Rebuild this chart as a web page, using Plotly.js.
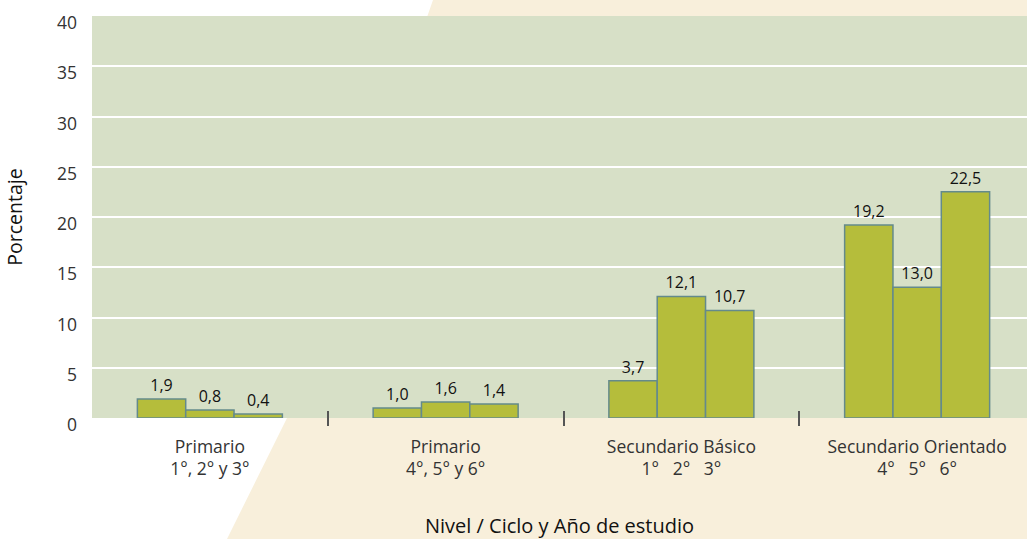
<!DOCTYPE html>
<html><head><meta charset="utf-8">
<script src="https://cdn.plot.ly/plotly-3.0.1.min.js"></script>
<style>
html,body{margin:0;padding:0;background:#fff;}
#wrap{position:relative;width:1027px;height:539px;overflow:hidden;}
#bg{position:absolute;left:0;top:0;width:1027px;height:539px;background:#f8efdb;
clip-path:polygon(433px 0,1027px 0,1027px 539px,227px 539px,287px 418px);}
#chart{position:absolute;left:0;top:0;width:1027px;height:539px;}
</style></head>
<body><div id="wrap"><div id="bg"></div><div id="chart"></div></div>
<script>
const groupPos = [0, 1, 2, 3];
const groupLabels = [
  "Primario<br>1°,\u00a02°\u00a0y\u00a03°",
  "Primario<br>4°,\u00a05°\u00a0y\u00a06°",
  "Secundario Básico<br>1°\u00a0\u00a0\u00a02°\u00a0\u00a0\u00a03°",
  "Secundario Orientado<br>4°\u00a0\u00a0\u00a05°\u00a0\u00a0\u00a06°"
];
const seriesA = [1.9, 1.0, 3.7, 19.2];
const seriesB = [0.8, 1.6, 12.1, 13.0];
const seriesC = [0.4, 1.4, 10.7, 22.5];
const separators = [0.5, 1.5, 2.5];
const yTicks = [0, 5, 10, 15, 20, 25, 30, 35, 40];

const fill = "#b5bd3b", edge = "#648a8c";
function bar(vals, name){
  return {type:"bar", x:groupPos, y:vals, name:name,
    marker:{color:fill, line:{color:edge, width:1.5}},
    texttemplate:"%{y:.1f}", textposition:"outside", cliponaxis:false,
    textfont:{family:"Open Sans", size:16, color:"#111"},
    hoverinfo:"skip"};
}
const data = [bar(seriesA,"a"), bar(seriesB,"b"), bar(seriesC,"c"),
  {type:"scatter", x:separators, y:[0,0,0], xaxis:"x2", mode:"markers",
   marker:{opacity:0}, hoverinfo:"skip", showlegend:false}];

const layout = {
  width:1027, height:539,
  margin:{l:92, r:0, t:16, b:121, pad:0},
  paper_bgcolor:"rgba(0,0,0,0)", plot_bgcolor:"#d7e0c7",
  separators:",.",
  showlegend:false,
  barmode:"group", bargap:0.385, bargroupgap:0,
  font:{family:"Open Sans", color:"#333"},
  xaxis:{range:[-0.5, 3.466], tickvals:groupPos, ticktext:groupLabels,
    ticks:"", showgrid:false, zeroline:false, showline:false,
    tickfont:{size:17.5, color:"#333"}, ticklabelstandoff:16,
    title:{text:"Nivel / Ciclo y Año de estudio", font:{size:20, color:"#111"}, standoff:40}},
  xaxis2:{overlaying:"x", anchor:"free", position:0.02, range:[-0.5, 3.466],
    tickvals:separators, showticklabels:false, ticks:"outside", ticklen:15, tickwidth:2,
    tickcolor:"#555", showgrid:false, zeroline:false, showline:false},
  yaxis:{range:[0,40], tickvals:yTicks, ticks:"", showgrid:true, gridcolor:"#ffffff", gridwidth:2,
    zeroline:false, showline:false, tickfont:{size:17.5, color:"#333"},
    ticklabelstandoff:14, ticklabelshift:7,
    title:{text:"Porcentaje", font:{size:19.5, color:"#111"}, standoff:29}}
};
Plotly.newPlot("chart", data, layout, {staticPlot:true, displayModeBar:false});
</script></body></html>
